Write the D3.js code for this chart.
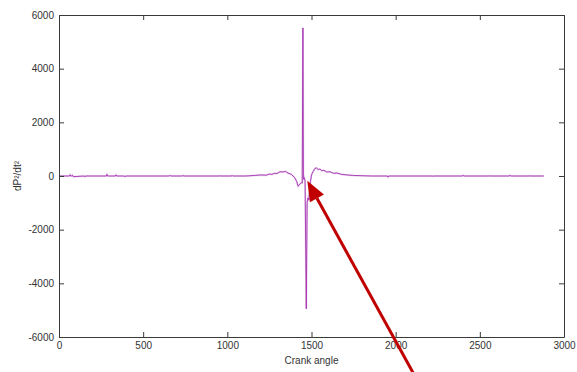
<!DOCTYPE html>
<html>
<head>
<meta charset="utf-8">
<script src="https://cdn.jsdelivr.net/npm/d3@7"></script>
<style>
  body { margin: 0; background: #fff; }
  svg { display: block; font-family: "Liberation Sans", Arial, sans-serif; }
</style>
</head>
<body>
<svg id="Chart"></svg>
<script>
// crank angle (deg) and second derivative of pressure
let crankAngle = [0, 62, 66, 70, 76, 80, 84, 150, 154, 158, 281, 285, 289, 335, 339, 343,
  388, 392, 396, 655, 659, 663, 733, 737, 741, 952, 956, 960, 1024, 1028, 1032,
  1110, 1160, 1200, 1230, 1250, 1265, 1280, 1295, 1313, 1330, 1345, 1360, 1380,
  1400, 1412, 1420, 1432, 1440, 1445, 1449, 1452, 1457, 1462, 1469, 1474, 1479,
  1484, 1489, 1494, 1500, 1510, 1520, 1530, 1540, 1550, 1560, 1575, 1590, 1610,
  1630, 1650, 1680, 1710, 1750, 1800, 1860, 1950, 1954, 1958, 2218, 2222, 2226,
  2396, 2400, 2404, 2556, 2560, 2564, 2675, 2679, 2683, 2794, 2798, 2802, 2880];
let dP2 = [0, 0, 45, 0, 0, 30, -25, 0, -30, 0, 0, 60, 0, 0, 40, 0,
  0, -30, 0, 0, 25, 0, 0, 25, 0, 0, 20, 0, 0, 25, 0,
  0, 20, 40, 30, 70, 60, 100, 90, 160, 150, 170, 110, 60,
  -60, -200, -380, -300, -250, -260, 5520, -120, -60, -200, -4950, -1000, -820,
  -900, -500, -200, 40, 170, 280, 300, 240, 260, 200, 210, 150, 160,
  100, 110, 60, 40, 20, 10, 0, 0, -40, 0, 0, -20, 0,
  0, 30, 0, 0, 15, 0, 0, 30, 0, 0, 20, 0, 0];

let xTicks = [0, 500, 1000, 1500, 2000, 2500, 3000];
let yTicks = [-6000, -4000, -2000, 0, 2000, 4000, 6000];
let xLabel = 'Crank angle';
let yLabel = 'dP\u00B2/dt\u00B2';

// red annotation arrow, in data units: [tip, tail]
let arrowTip = [1475, -180];
let arrowTail = [2105, -7350];

function getConfig() {
  let width = 577;
  let height = 372;
  let margin = { top: 15, bottom: 35, left: 59, right: 13 };
  let bodyWidth = width - margin.left - margin.right;
  let bodyHeight = height - margin.top - margin.bottom;
  let container = d3.select('#Chart').attr('width', width).attr('height', height);
  return { width, height, margin, bodyWidth, bodyHeight, container };
}

function getScales(config) {
  let { margin, bodyWidth, bodyHeight } = config;
  let xScale = d3.scaleLinear().domain([0, 3000]).range([margin.left, margin.left + bodyWidth]);
  let yScale = d3.scaleLinear().domain([-6000, 6000]).range([margin.top + bodyHeight, margin.top]);
  return { xScale, yScale };
}

function drawLine(config, scales) {
  let { container } = config;
  let { xScale, yScale } = scales;
  let points = crankAngle.map((a, i) => [a, dP2[i]]);
  let line = d3.line().x(d => xScale(d[0])).y(d => yScale(d[1]));
  // soft halo like the jpeg blur, then the core line
  container.append('path')
    .attr('d', line(points))
    .attr('fill', 'none')
    .attr('stroke', '#ecd6f0')
    .attr('stroke-width', 2);
  container.append('path')
    .attr('d', line(points))
    .attr('fill', 'none')
    .attr('stroke', '#a431b0')
    .attr('stroke-width', 0.9)
    .attr('stroke-linejoin', 'round');
}

function drawAxes(config, scales) {
  let { container, margin, bodyWidth, bodyHeight } = config;
  let { xScale, yScale } = scales;
  let fmt = d => String(d);
  let styleAxis = g => {
    g.selectAll('.domain').attr('stroke', '#3a3a3a');
    g.selectAll('.tick line').attr('stroke', '#3a3a3a');
    g.selectAll('text').attr('fill', '#333').style('font-size', '10px');
  };

  container.append('g')
    .attr('transform', `translate(0,${margin.top + bodyHeight})`)
    .call(d3.axisBottom(xScale).tickValues(xTicks).tickFormat(fmt).tickSizeInner(-5).tickSizeOuter(0).tickPadding(5))
    .call(styleAxis);
  container.append('g')
    .attr('transform', `translate(0,${margin.top})`)
    .call(d3.axisTop(xScale).tickValues(xTicks).tickSizeInner(-5).tickSizeOuter(0).tickFormat(''))
    .call(styleAxis);
  container.append('g')
    .attr('transform', `translate(${margin.left},0)`)
    .call(d3.axisLeft(yScale).tickValues(yTicks).tickFormat(fmt).tickSizeInner(-5).tickSizeOuter(0).tickPadding(5))
    .call(styleAxis);
  container.append('g')
    .attr('transform', `translate(${margin.left + bodyWidth},0)`)
    .call(d3.axisRight(yScale).tickValues(yTicks).tickSizeInner(-5).tickSizeOuter(0).tickFormat(''))
    .call(styleAxis);

  container.append('text')
    .attr('x', margin.left + bodyWidth / 2)
    .attr('y', margin.top + bodyHeight + 27)
    .attr('text-anchor', 'middle')
    .attr('fill', '#333')
    .style('font-size', '10px')
    .text(xLabel);
  container.append('text')
    .attr('transform', `translate(21,${margin.top + bodyHeight / 2}) rotate(-90)`)
    .attr('text-anchor', 'middle')
    .attr('fill', '#333')
    .style('font-size', '10px')
    .text(yLabel);
}

function drawArrow(config, scales) {
  let { container } = config;
  let { xScale, yScale } = scales;
  let x1 = xScale(arrowTail[0]), y1 = yScale(arrowTail[1]);
  let x2 = xScale(arrowTip[0]), y2 = yScale(arrowTip[1]);
  let ang = Math.atan2(y2 - y1, x2 - x1);
  let headLen = 20, headHalf = 8;
  let bx = x2 - headLen * Math.cos(ang), by = y2 - headLen * Math.sin(ang);
  container.append('line')
    .attr('x1', x1).attr('y1', y1).attr('x2', bx).attr('y2', by)
    .attr('stroke', '#c00000')
    .attr('stroke-width', 3);
  let px = -Math.sin(ang), py = Math.cos(ang);
  container.append('path')
    .attr('d', `M${x2},${y2}L${bx + px * headHalf},${by + py * headHalf}L${bx - px * headHalf},${by - py * headHalf}Z`)
    .attr('fill', '#c00000');
}

let config = getConfig();
let scales = getScales(config);
drawLine(config, scales);
drawAxes(config, scales);
drawArrow(config, scales);
</script>
</body>
</html>
